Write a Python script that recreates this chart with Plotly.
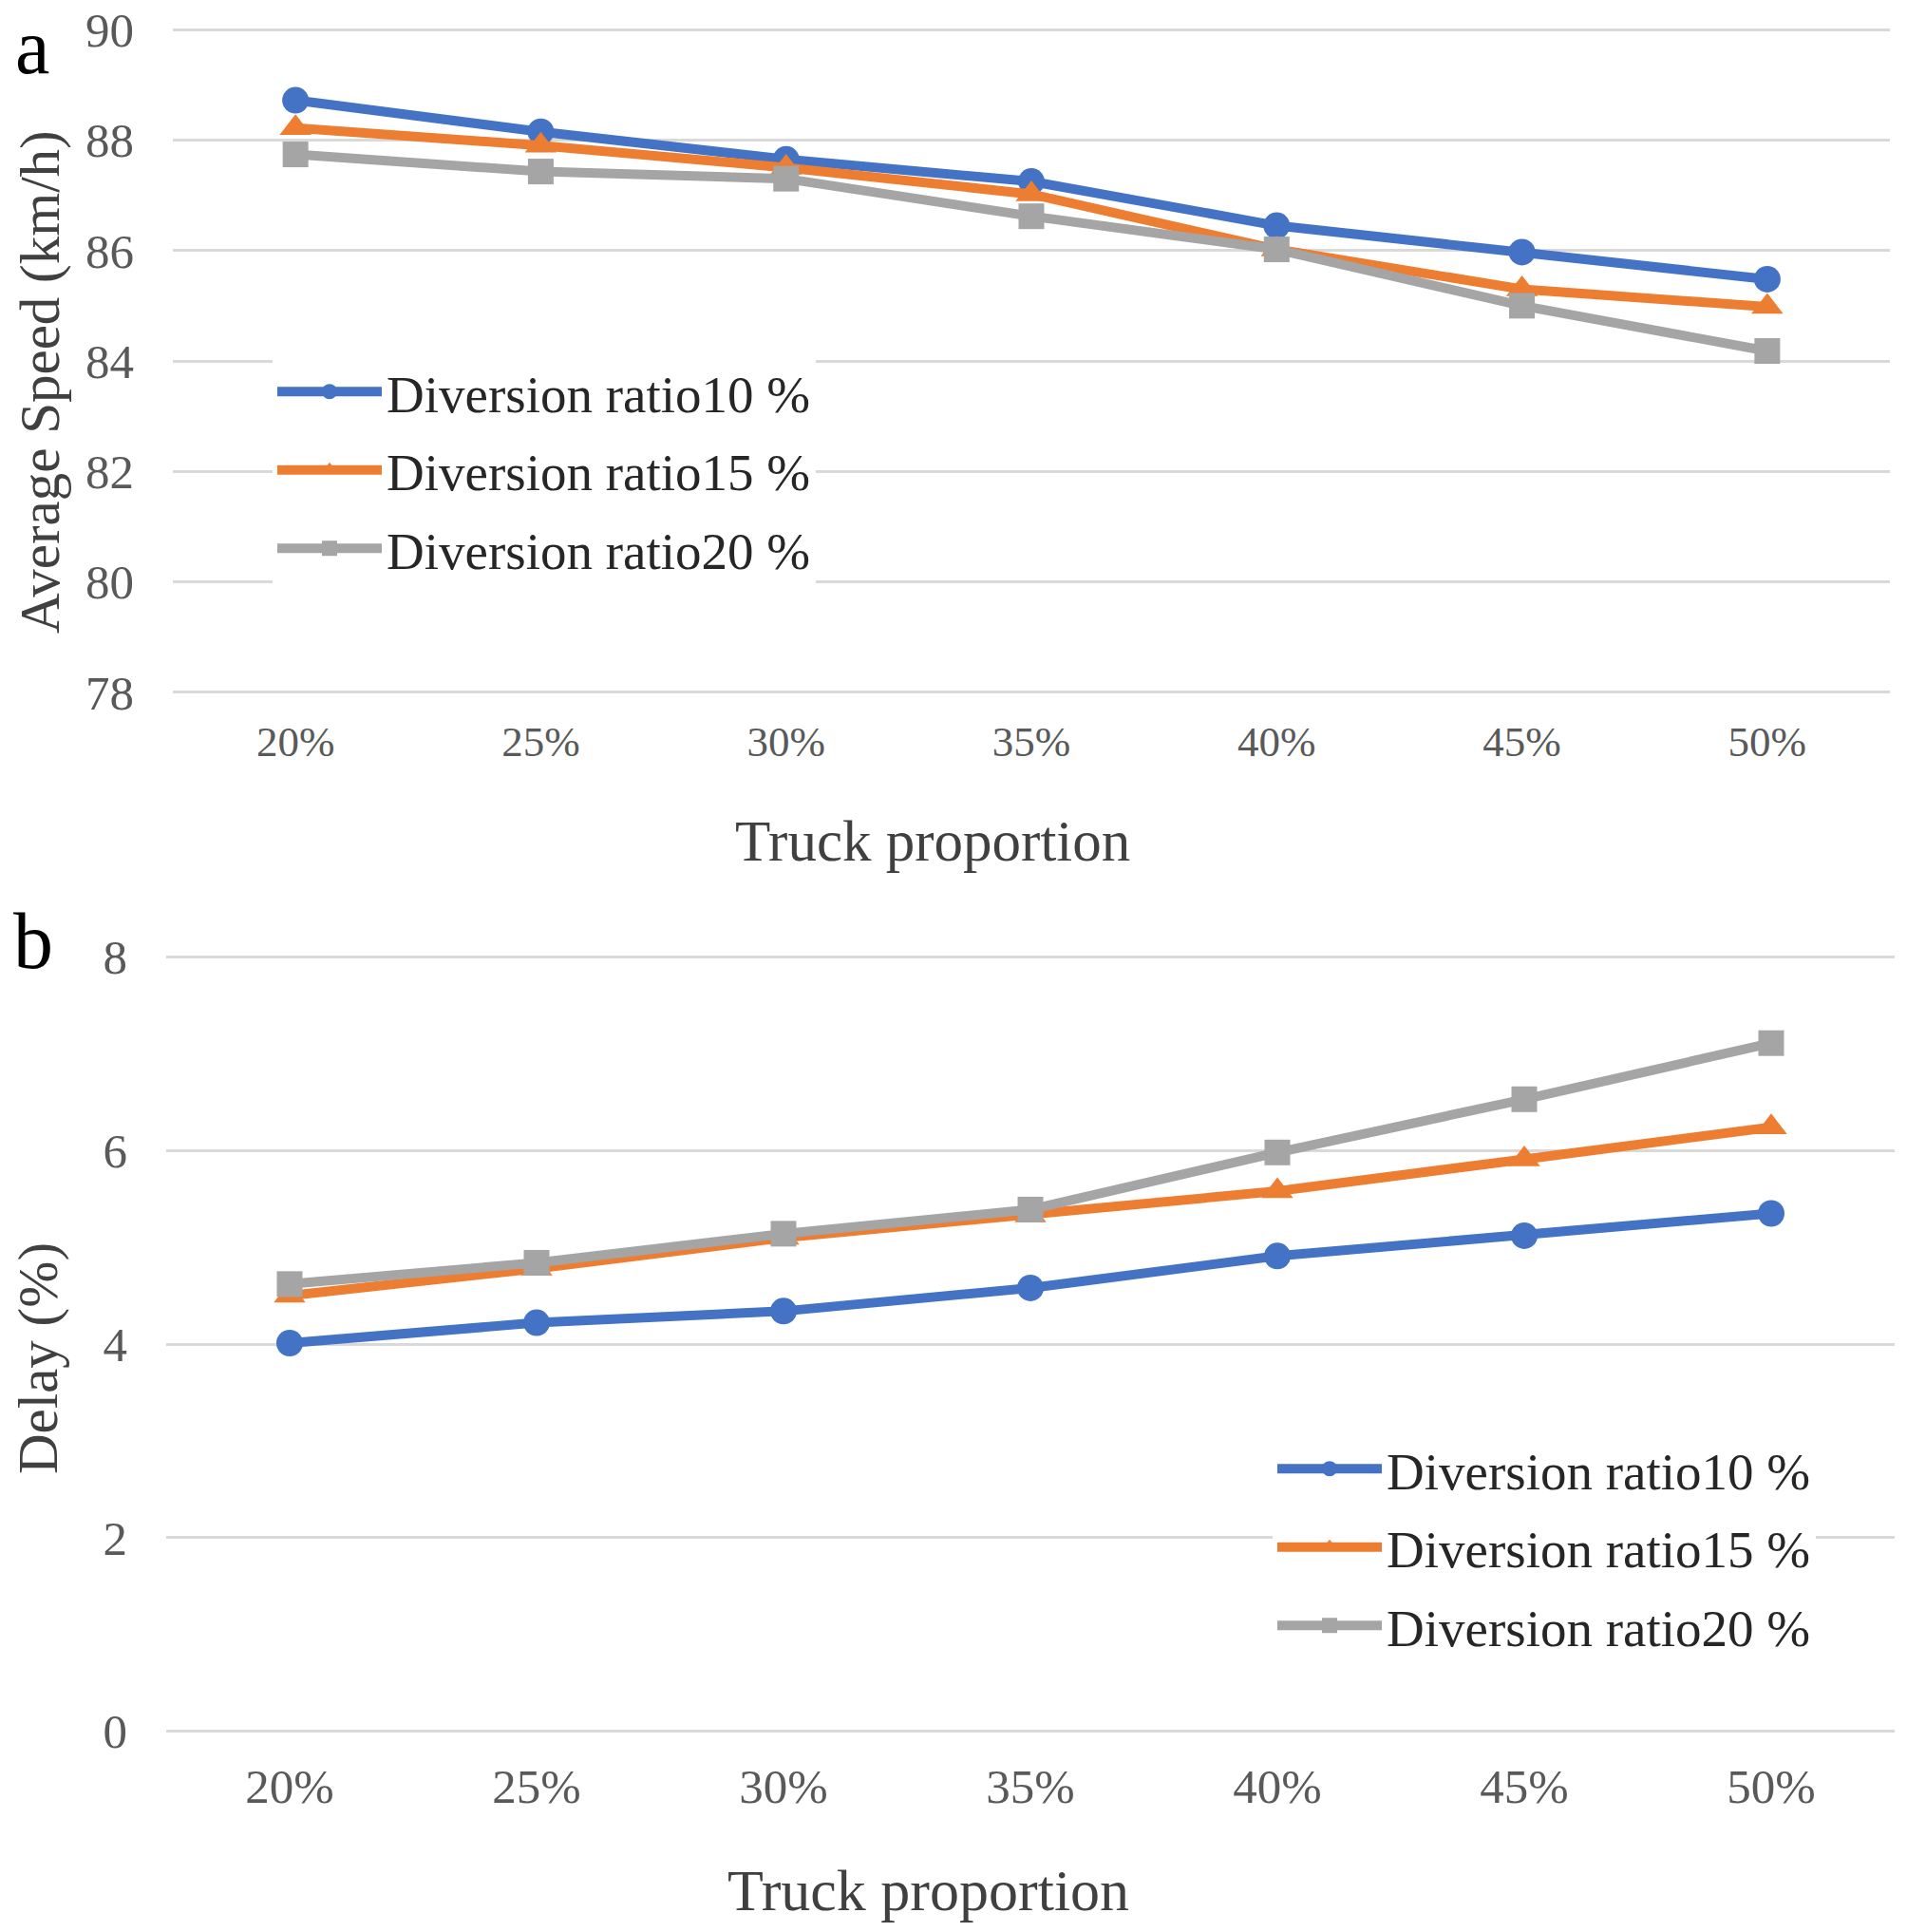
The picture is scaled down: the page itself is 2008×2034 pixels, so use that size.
import plotly.graph_objects as go

categories = ["20%", "25%", "30%", "35%", "40%", "45%", "50%"]
series_names = ["Diversion ratio10 %", "Diversion ratio15 %", "Diversion ratio20 %"]

speed_10 = [88.72, 88.15, 87.65, 87.25, 86.45, 85.97, 85.48]
speed_15 = [88.22, 87.90, 87.50, 87.02, 86.02, 85.30, 84.98]
speed_20 = [87.74, 87.43, 87.30, 86.62, 86.02, 85.00, 84.18]

delay_10 = [4.01, 4.22, 4.34, 4.58, 4.91, 5.12, 5.35]
delay_15 = [4.50, 4.78, 5.10, 5.33, 5.58, 5.91, 6.24]
delay_20 = [4.62, 4.84, 5.14, 5.39, 5.98, 6.53, 7.11]

colors = ["#4472C4", "#ED7D31", "#A5A5A5"]
symbols = ["circle", "triangle-up", "square"]
sizes = [28, 29, 27]

FONT = "Liberation Serif"
FW, FH = 2008, 2034


def px(x):
    return x / FW


def py(y):
    return 1 - y / FH


fig = go.Figure()

for i, (name, ys) in enumerate(zip(series_names, [speed_10, speed_15, speed_20])):
    fig.add_trace(go.Scatter(
        x=categories, y=ys, name=name, mode="lines+markers", legendgroup="a%d" % i,
        line=dict(color=colors[i], width=10),
        marker=dict(symbol=symbols[i], size=sizes[i], color=colors[i]),
        xaxis="x", yaxis="y", legend="legend"))

for i, (name, ys) in enumerate(zip(series_names, [delay_10, delay_15, delay_20])):
    fig.add_trace(go.Scatter(
        x=categories, y=ys, name=name, mode="lines+markers", legendgroup="b%d" % i,
        line=dict(color=colors[i], width=10),
        marker=dict(symbol=symbols[i], size=sizes[i], color=colors[i]),
        xaxis="x2", yaxis="y2", legend="legend2"))

grid = "#D9D9D9"
tickc = "#595959"
titlec = "#404040"

fig.update_layout(
    width=FW, height=FH,
    margin=dict(l=0, r=0, t=0, b=0, autoexpand=False),
    paper_bgcolor="white", plot_bgcolor="white",
    font=dict(family=FONT, color=titlec),
    xaxis=dict(domain=[px(182), px(1990)], anchor="y", type="category",
               range=[-0.5, 6.5], showgrid=False, showline=False, zeroline=False,
               ticks="", tickfont=dict(family=FONT, size=45, color=tickc),
               ticklabelstandoff=20, automargin=False, ticklabeloverflow="allow"),
    yaxis=dict(domain=[py(730), py(30)], anchor="x", range=[77.98, 90.02],
               tickvals=[78, 80, 82, 84, 86, 88, 90],
               showgrid=True, gridcolor=grid, gridwidth=3, showline=False, zeroline=False,
               ticks="", tickfont=dict(family=FONT, size=51, color=tickc),
               ticklabelstandoff=40, automargin=False, ticklabeloverflow="allow"),
    xaxis2=dict(domain=[px(175), px(1995)], anchor="y2", type="category",
                range=[-0.5, 6.5], showgrid=False, showline=False, zeroline=False,
                ticks="", tickfont=dict(family=FONT, size=51, color=tickc),
                ticklabelstandoff=22, automargin=False, ticklabeloverflow="allow"),
    yaxis2=dict(domain=[py(1824), py(1006)], anchor="x2", range=[-0.015, 8.015],
                tickvals=[0, 2, 4, 6, 8],
                showgrid=True, gridcolor=grid, gridwidth=3, showline=False, zeroline=False,
                ticks="", tickfont=dict(family=FONT, size=51, color=tickc),
                ticklabelstandoff=40, automargin=False, ticklabeloverflow="allow"),
    legend=dict(x=px(287), y=py(370), xanchor="left", yanchor="top",
                bgcolor="white", font=dict(family=FONT, size=55, color="#262626"),
                itemwidth=110, tracegroupgap=8, traceorder="grouped"),
    legend2=dict(x=px(1340), y=py(1504), xanchor="left", yanchor="top",
                 bgcolor="white", font=dict(family=FONT, size=55, color="#262626"),
                 itemwidth=110, tracegroupgap=8, traceorder="grouped"),
    showlegend=True,
)

def label(text, x, y, size, angle=0, color=titlec):
    fig.add_annotation(text=text, x=px(x), y=py(y), xref="paper", yref="paper",
                       xanchor="center", yanchor="middle", showarrow=False,
                       textangle=angle, font=dict(family=FONT, size=size, color=color))

label("Truck proportion", 982, 885, 61)
label("Truck proportion", 977, 1990, 62)
label("Average Speed (km/h)", 42, 402, 59, angle=-90)
label("Delay (%)", 40, 1430, 59, angle=-90)
label("a", 34, 50, 82, color="black")
label("b", 35, 990, 84, color="black")

# remove the browser's default page margin so the figure fills the window exactly
fig.write_html("out.html", config={"displayModeBar": False},
               post_script="document.body.style.margin='0';document.body.style.padding='0';")
